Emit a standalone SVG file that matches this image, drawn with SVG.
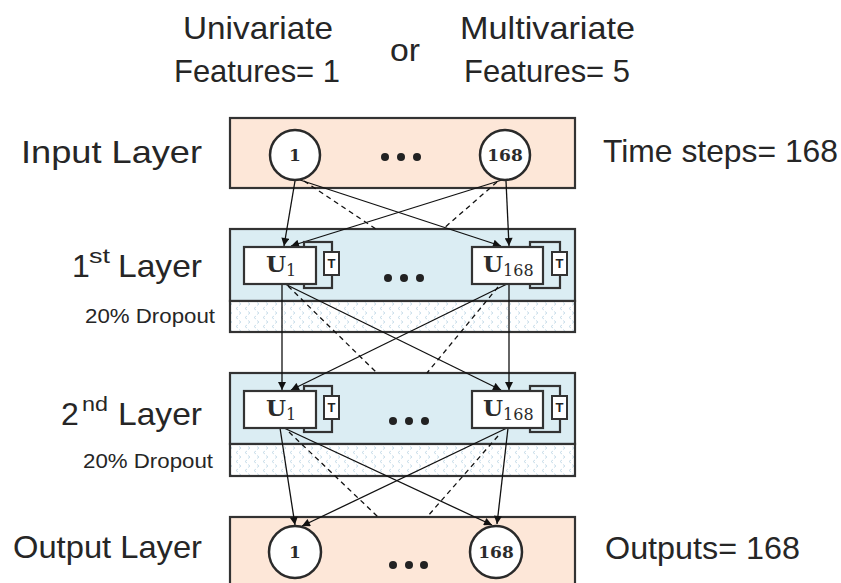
<svg xmlns="http://www.w3.org/2000/svg" width="841" height="583" viewBox="0 0 841 583">
<defs>
<style>
.lbl{font-family:"Liberation Sans",Arial,sans-serif;fill:#262626;}
.big{font-size:32px;}
.sup{font-size:21px;}
.small{font-size:20px;}
.box{stroke:#333;stroke-width:2.2;}
.inp{fill:#fde7d8;}
.hid{fill:#dbedf3;}
.drop{fill:url(#drp);}
.node{fill:#fff;stroke:#2a2a2a;stroke-width:2.5;}
.unit{fill:#fff;stroke:#333;stroke-width:2.2;}
.loop{fill:none;stroke:#333;stroke-width:2.2;}
.tbox{fill:#fff;stroke:#333;stroke-width:2;}
.ttxt{font-family:"Liberation Sans",Arial,sans-serif;font-weight:bold;font-size:13px;fill:#222;text-anchor:middle;}
.num{font-family:"DejaVu Serif",serif;font-weight:bold;font-size:17px;fill:#2b2b2b;text-anchor:middle;}
.U{font-family:"DejaVu Serif",serif;font-weight:bold;font-size:23px;fill:#2b2b2b;}
.sub{font-family:"DejaVu Serif",serif;font-weight:normal;font-size:16px;}
.dot{fill:#222;}
.c{stroke:#111;stroke-width:1.3;fill:none;}
.a{marker-end:url(#arr);}
.d{stroke-dasharray:5 4;}
</style>
<marker id="arr" viewBox="0 0 10 10" refX="10" refY="5" markerWidth="9" markerHeight="8" orient="auto" markerUnits="userSpaceOnUse">
<path d="M0,0 L10,5 L0,10 z" fill="#111"/>
</marker>
<pattern id="drp" width="9" height="9" patternUnits="userSpaceOnUse">
<rect width="9" height="9" fill="#fff"/>
<path d="M4,1 L2,2.5 L4,4 M5,5.5 L7,7 L5,8.5" stroke="#bcd5e4" stroke-width="0.8" fill="none"/>
</pattern>
</defs>

<g id="top-labels">
<text class="lbl big" x="183" y="39" textLength="150" lengthAdjust="spacingAndGlyphs">Univariate</text>
<text class="lbl big" x="174" y="82" textLength="166" lengthAdjust="spacingAndGlyphs">Features= 1</text>
<text class="lbl big" x="390" y="61" textLength="30" lengthAdjust="spacingAndGlyphs">or</text>
<text class="lbl big" x="460" y="39" textLength="175" lengthAdjust="spacingAndGlyphs">Multivariate</text>
<text class="lbl big" x="464" y="82" textLength="166" lengthAdjust="spacingAndGlyphs">Features= 5</text>
</g>

<g id="side-labels">
<text class="lbl big" x="21" y="163" textLength="181" lengthAdjust="spacingAndGlyphs">Input Layer</text>
<text class="lbl big" x="72" y="277">1</text>
<text class="lbl sup" x="89" y="263" textLength="21" lengthAdjust="spacingAndGlyphs">st</text>
<text class="lbl big" x="118" y="277" textLength="84" lengthAdjust="spacingAndGlyphs">Layer</text>
<text class="lbl small" x="85" y="323" textLength="130" lengthAdjust="spacingAndGlyphs">20% Dropout</text>
<text class="lbl big" x="61" y="425">2</text>
<text class="lbl sup" x="82" y="411" textLength="26" lengthAdjust="spacingAndGlyphs">nd</text>
<text class="lbl big" x="118" y="425" textLength="84" lengthAdjust="spacingAndGlyphs">Layer</text>
<text class="lbl small" x="83" y="468" textLength="130" lengthAdjust="spacingAndGlyphs">20% Dropout</text>
<text class="lbl big" x="13" y="558" textLength="189" lengthAdjust="spacingAndGlyphs">Output Layer</text>
<text class="lbl big" x="603" y="162" textLength="235" lengthAdjust="spacingAndGlyphs">Time steps= 168</text>
<text class="lbl big" x="605" y="559" textLength="195" lengthAdjust="spacingAndGlyphs">Outputs= 168</text>
</g>

<g id="input-layer">
<rect class="box inp" x="230" y="118" width="345" height="70"/>
</g>
<g id="hidden-layer-1">
<rect class="box hid" x="230" y="229" width="345" height="72"/>
<rect class="box drop" x="230" y="301" width="345" height="31"/>
</g>
<g id="hidden-layer-2">
<rect class="box hid" x="230" y="373" width="345" height="71"/>
<rect class="box drop" x="230" y="444" width="345" height="32"/>
</g>
<g id="output-layer">
<rect class="box inp" x="230" y="517" width="345" height="80"/>
</g>

<g id="connectors">
<line class="c a" x1="295" y1="181" x2="284" y2="246"/>
<line class="c a" x1="300" y1="180" x2="501" y2="246"/>
<line class="c a" x1="502" y1="180" x2="291" y2="246"/>
<line class="c a" x1="506" y1="181" x2="509" y2="246"/>
<line class="c d" x1="304" y1="181" x2="376" y2="229"/>
<line class="c d" x1="497" y1="182" x2="443" y2="229"/>

<line class="c a" x1="282" y1="284" x2="282" y2="390"/>
<line class="c a" x1="285" y1="284" x2="501" y2="390"/>
<line class="c a" x1="507" y1="284" x2="291" y2="390"/>
<line class="c a" x1="509" y1="284" x2="509" y2="390"/>
<line class="c d" x1="288" y1="286" x2="377" y2="373"/>
<line class="c d" x1="498" y1="287" x2="427" y2="373"/>

<line class="c a" x1="280" y1="428" x2="295" y2="525"/>
<line class="c a" x1="284" y1="428" x2="492" y2="525"/>
<line class="c a" x1="507" y1="428" x2="302" y2="526"/>
<line class="c a" x1="508" y1="428" x2="497" y2="524"/>
<line class="c d" x1="289" y1="432" x2="378" y2="517"/>
<line class="c d" x1="498" y1="436" x2="427" y2="517"/>
</g>

<g id="in-1"><circle class="node" cx="295" cy="155" r="25"/><text class="num" x="295" y="161">1</text></g>
<g id="in-dots"><circle class="dot" cx="385" cy="157" r="4"/><circle class="dot" cx="401" cy="157" r="4"/><circle class="dot" cx="417" cy="157" r="4"/></g>
<g id="in-168"><circle class="node" cx="505" cy="155" r="25"/><text class="num" x="505" y="161">168</text></g>

<g id="h1-u1">
<rect class="loop" x="304" y="242" width="28" height="46"/>
<rect class="unit" x="244" y="247" width="72" height="37"/>
<rect class="tbox" x="324" y="252" width="15" height="23"/>
<text class="ttxt" x="331.5" y="268">T</text>
<text class="U" x="266" y="272">U<tspan class="sub" dy="4">1</tspan></text>
</g>
<g id="h1-dots"><circle class="dot" cx="388" cy="278" r="4"/><circle class="dot" cx="404" cy="278" r="4"/><circle class="dot" cx="420" cy="278" r="4"/></g>
<g id="h1-u168">
<rect class="loop" x="530" y="242" width="30" height="46"/>
<rect class="unit" x="472" y="247" width="71" height="37"/>
<rect class="tbox" x="552" y="252" width="15" height="23"/>
<text class="ttxt" x="559.5" y="268">T</text>
<text class="U" x="483" y="272">U<tspan class="sub" dy="4">168</tspan></text>
</g>

<g id="h2-u1">
<rect class="loop" x="304" y="386" width="28" height="46"/>
<rect class="unit" x="244" y="391" width="72" height="37"/>
<rect class="tbox" x="324" y="396" width="15" height="23"/>
<text class="ttxt" x="331.5" y="412">T</text>
<text class="U" x="266" y="416">U<tspan class="sub" dy="4">1</tspan></text>
</g>
<g id="h2-dots"><circle class="dot" cx="393" cy="421" r="4"/><circle class="dot" cx="409" cy="421" r="4"/><circle class="dot" cx="425" cy="421" r="4"/></g>
<g id="h2-u168">
<rect class="loop" x="530" y="386" width="30" height="46"/>
<rect class="unit" x="472" y="391" width="71" height="37"/>
<rect class="tbox" x="552" y="396" width="15" height="23"/>
<text class="ttxt" x="559.5" y="412">T</text>
<text class="U" x="483" y="416">U<tspan class="sub" dy="4">168</tspan></text>
</g>

<g id="out-1"><circle class="node" cx="295" cy="552" r="26"/><text class="num" x="295" y="558">1</text></g>
<g id="out-dots"><circle class="dot" cx="393" cy="565" r="4"/><circle class="dot" cx="409" cy="565" r="4"/><circle class="dot" cx="424" cy="565" r="4"/></g>
<g id="out-168"><circle class="node" cx="496" cy="552" r="26"/><text class="num" x="496" y="558">168</text></g>
</svg>
